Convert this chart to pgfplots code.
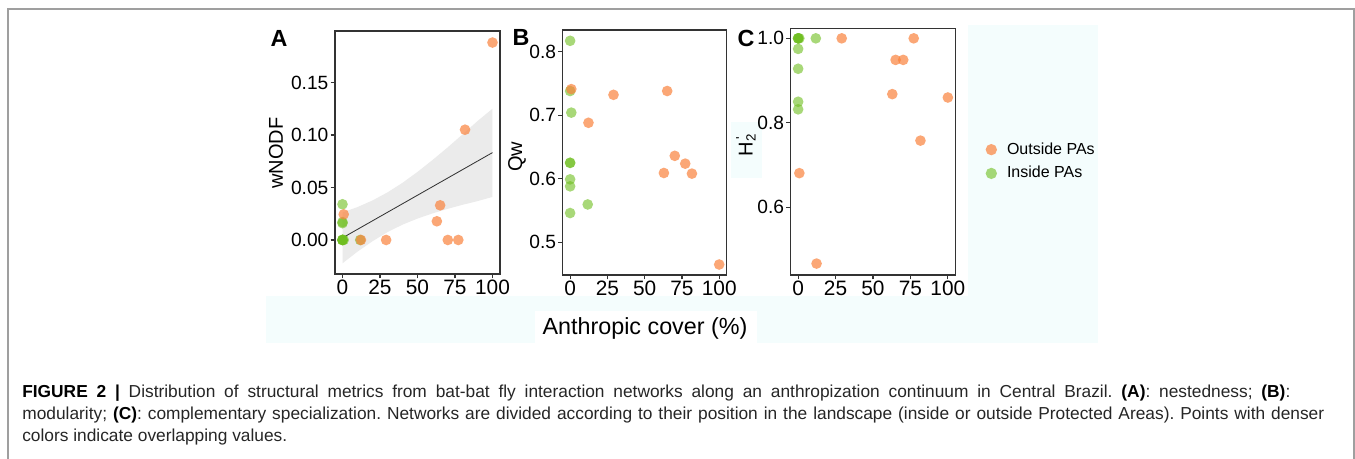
\documentclass[border=0pt]{standalone}
\usepackage{fontspec}
\setmainfont{Liberation Sans}
\newfontfamily\capfont{Liberation Sans}
\usepackage{pgfplots}
\pgfplotsset{compat=1.18}
\definecolor{myorange}{RGB}{250,130,60}
\definecolor{mygreen}{RGB}{110,190,30}
\definecolor{bgcyan}{RGB}{244,253,253}
\definecolor{framegray}{RGB}{51,51,51}
\pgfplotsset{
  panel/.style={
    scale only axis,
    axis line style={draw=framegray, line width=0.8pt},
    xmin=-5, xmax=105,
    xtick={0,25,50,75,100}, xticklabels={0,25,50,75,100},
    tick align=outside, major tick length=2.6pt,
    tick style={framegray, line width=0.7pt},
    xtick pos=left, ytick pos=left,
    x tick label style={font=\fontsize{12.5}{12.5}\selectfont, text=black, inner sep=1pt},
    y tick label style={font=\fontsize{11.5}{11.5}\selectfont, text=black, inner sep=1.2pt},
    /pgf/number format/assume math mode=true,
    axis background/.style={fill=white},
  },
  grn/.style={only marks, mark=*, mark size=3.2pt, color=mygreen, mark options={draw opacity=0, fill=mygreen, fill opacity=0.6}},
  org/.style={only marks, mark=*, mark size=3.2pt, color=myorange, mark options={draw opacity=0, fill=myorange, fill opacity=0.7}},
}
\begin{document}
\frenchspacing
\begin{tikzpicture}
\begin{scope}[x=0.6pt,y=-0.6pt]
  \useasboundingbox (0,0) rectangle (1355,459);
  \fill[white] (0,0) rectangle (1355,459);
  % light cyan backdrop and white patches
  \fill[bgcyan] (266,25) rectangle (1098,343);
  \fill[white] (266,25) rectangle (968,296);
  \fill[bgcyan] (731,122) rectangle (762,178);
  \fill[white] (535,311) rectangle (757,343);
  % frame
  \draw[gray!75, line width=0.9pt] (8,459) -- (8,9) -- (1354,9) -- (1354,459);
\end{scope}

% ---------------- Panel A ----------------
\begin{axis}[panel, at={(201pt,-164.4pt)}, anchor=south west,
  width=99pt, height=145.8pt,
  ymin=-0.0324, ymax=0.199,
  ytick={0,0.05,0.10,0.15}, yticklabels={0.00,0.05,0.10,0.15}]
\addplot[fill=gray!16, draw=none] coordinates {
 (0,0.0262) (10,0.0313) (20,0.0376) (30,0.0453) (40,0.0544) (50,0.0648)
 (60,0.0761) (70,0.0880) (80,0.1005) (90,0.1132) (100,0.1250)
 (100,0.0410) (90,0.0370) (80,0.0335) (70,0.0296) (60,0.0253) (50,0.0204)
 (40,0.0146) (30,0.0075) (20,-0.0012) (10,-0.0111) (0,-0.0222)};
\addplot[gray!40!black, line width=0.5pt] coordinates {(0,0.0020) (100,0.0832)};
\addplot[grn] coordinates {(0,0.034) (0,0.017) (0,0.016) (0,0) (0,0) (0,0) (0,0) (0.8,0) (11.8,0)};
\addplot[org] coordinates {(0.8,0.0244) (12.3,0) (29.1,0) (62.9,0.0178) (65.1,0.033) (70.2,0) (77.2,0) (81.7,0.105) (100,0.188)};
\end{axis}

% ---------------- Panel B ----------------
\begin{axis}[panel, at={(337.6pt,-165pt)}, anchor=south west,
  width=98.4pt, height=147pt,
  ymin=0.4485, ymax=0.834,
  ytick={0.5,0.6,0.7,0.8}, yticklabels={0.5,0.6,0.7,0.8}]
\addplot[grn] coordinates {(0,0.817) (0,0.738) (0.8,0.704) (0,0.625) (0,0.625) (0,0.599) (0,0.588) (0,0.546) (11.8,0.5595)};
\addplot[org] coordinates {(0.8,0.741) (12.3,0.688) (29.1,0.732) (62.9,0.609) (65.1,0.738) (70.2,0.636) (77.2,0.6237) (81.7,0.608) (100,0.465)};
\end{axis}

% ---------------- Panel C ----------------
\begin{axis}[panel, at={(474.4pt,-165pt)}, anchor=south west,
  width=98.8pt, height=148pt,
  ymin=0.44, ymax=1.0237,
  ytick={0.6,0.8,1.0}, yticklabels={0.6,0.8,1.0},
  legend style={at={(1.0,0.46)}, anchor=west, xshift=15pt, draw=none, fill=none,
    font=\fontsize{9.6}{11}\selectfont, row sep=1.8pt,
    /tikz/every odd column/.append style={column sep=4pt}},
  legend cell align=left]
\addplot[grn, forget plot] coordinates {(0,1.0) (0,1.0) (0,1.0) (0.8,1.0) (0,0.975) (0,0.928) (0,0.85) (0,0.832) (11.8,1.0)};
\addplot[org, forget plot] coordinates {(0.8,0.681) (12.3,0.467) (29.1,1.0) (62.9,0.868) (65.1,0.949) (70.2,0.949) (77.2,1.0) (81.7,0.758) (100,0.86)};
\addlegendimage{org, mark size=3.4pt}
\addlegendentry{Outside PAs}
\addlegendimage{grn, mark size=3.4pt}
\addlegendentry{Inside PAs}
\end{axis}

\begin{scope}[x=0.6pt,y=-0.6pt]
  \node[font=\bfseries\fontsize{14}{14}\selectfont] at (279,38) {A};
  \node[font=\bfseries\fontsize{14}{14}\selectfont] at (521,37) {B};
  \node[font=\bfseries\fontsize{14}{14}\selectfont] at (746,38) {C};
  \node[rotate=90, font=\fontsize{12}{12}\selectfont] at (276,153) {wNODF};
  \node[rotate=90, font=\fontsize{12}{12}\selectfont] at (517,157) {Qw};
  \node[rotate=90, font=\fontsize{12}{12}\selectfont] at (746,146) {H\textsubscript{2}\kern-0.3em\textsuperscript{\textquotesingle}};
  \node[font=\fontsize{14}{14}\selectfont] at (645,328) {Anthropic cover (\%)};
  % caption
  \begin{scope}[every node/.style={anchor=base west, inner sep=0pt, font=\capfont\fontsize{10.4}{11}\selectfont, text=black!85}]
    \node at (22,398) {\hbox to 760.8pt{\textbf{\color{black}FIGURE 2 |} Distribution of structural metrics from bat-bat fly interaction networks along an anthropization continuum in Central Brazil. \textbf{\color{black}(A)}: nestedness; \textbf{\color{black}(B)}:}};
    \node at (22,419.5) {\hbox to 781.2pt{modularity; \textbf{\color{black}(C)}: complementary specialization. Networks are divided according to their position in the landscape (inside or outside Protected Areas). Points with denser}};
    \node at (22,441) {colors indicate overlapping values.};
  \end{scope}
\end{scope}
\end{tikzpicture}
\end{document}
